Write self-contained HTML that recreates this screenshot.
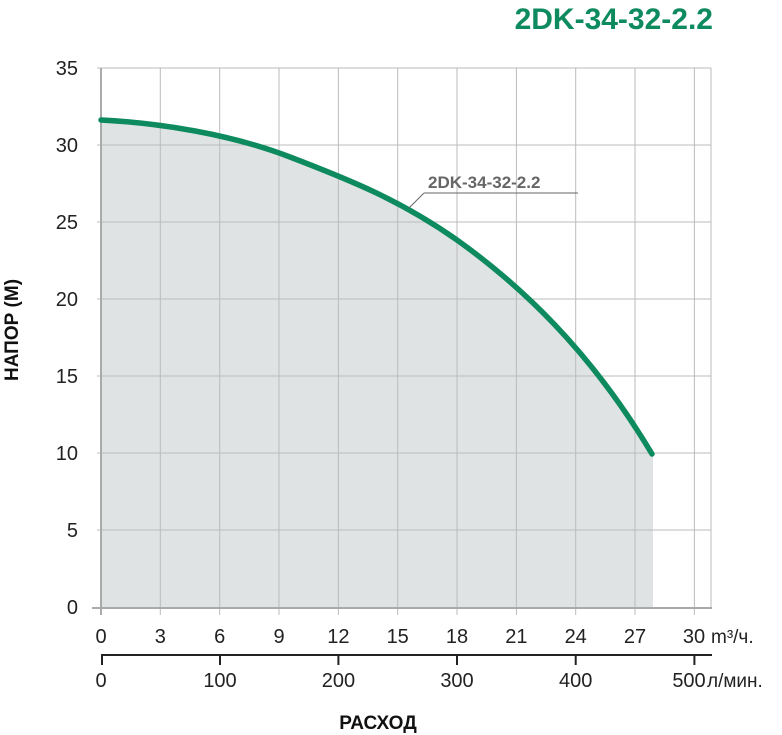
<!DOCTYPE html>
<html><head><meta charset="utf-8"><style>
body{margin:0;background:#fff;width:782px;height:735px;overflow:hidden}
svg{display:block}
text{font-family:"Liberation Sans","DejaVu Sans",sans-serif}
</style></head><body>
<svg width="782" height="735" viewBox="0 0 782 735">
<text x="713" y="29" text-anchor="end" font-size="30" font-weight="bold" fill="#0e8a5f">2DK-34-32-2.2</text>
<path d="M101,120 C160,123 230,134 290,157 C350,180 400,200 457,240 C520,285 590,350 652,454 L653,454 L653,608 L101,608 Z" fill="#dfe3e4"/>
<g stroke="#bbb" stroke-width="1">
<line x1="97" y1="68" x2="711" y2="68"/><line x1="97" y1="145" x2="711" y2="145"/><line x1="97" y1="222" x2="711" y2="222"/><line x1="97" y1="299" x2="711" y2="299"/><line x1="97" y1="376" x2="711" y2="376"/><line x1="97" y1="453" x2="711" y2="453"/><line x1="97" y1="530" x2="711" y2="530"/>
<line x1="160.3" y1="68" x2="160.3" y2="615"/><line x1="219.7" y1="68" x2="219.7" y2="615"/><line x1="279" y1="68" x2="279" y2="615"/><line x1="338.4" y1="68" x2="338.4" y2="615"/><line x1="397.7" y1="68" x2="397.7" y2="615"/><line x1="457" y1="68" x2="457" y2="615"/><line x1="516.4" y1="68" x2="516.4" y2="615"/><line x1="575.7" y1="68" x2="575.7" y2="615"/><line x1="635" y1="68" x2="635" y2="615"/><line x1="694.4" y1="68" x2="694.4" y2="615"/><line x1="711" y1="68" x2="711" y2="608"/>
</g>
<line x1="101" y1="68" x2="101" y2="615" stroke="#aaa" stroke-width="2"/>
<line x1="92" y1="608" x2="712" y2="608" stroke="#aaa" stroke-width="2"/>
<path d="M101,120 C160,123 230,134 290,157 C350,180 400,200 457,240 C520,285 590,350 652,454" fill="none" stroke="#0e8a5f" stroke-width="5.5" stroke-linecap="round"/>
<line x1="409" y1="208" x2="424" y2="193" stroke="#666" stroke-width="1"/>
<line x1="424" y1="193" x2="578" y2="193" stroke="#666" stroke-width="1"/>
<text x="428" y="188" font-size="17" font-weight="bold" fill="#666">2DK-34-32-2.2</text>
<g font-size="20" fill="#222" text-anchor="end">
<text x="78" y="75">35</text><text x="78" y="152">30</text><text x="78" y="229">25</text><text x="78" y="306">20</text><text x="78" y="383">15</text><text x="78" y="460">10</text><text x="78" y="537">5</text><text x="78" y="614">0</text>
</g>
<g font-size="20" fill="#222" text-anchor="middle">
<text x="101" y="643">0</text><text x="160.3" y="643">3</text><text x="219.7" y="643">6</text><text x="279" y="643">9</text><text x="338.4" y="643">12</text><text x="397.7" y="643">15</text><text x="457" y="643">18</text><text x="516.4" y="643">21</text><text x="575.7" y="643">24</text><text x="635" y="643">27</text><text x="694" y="643">30</text>
<text x="101" y="687">0</text><text x="220" y="687">100</text><text x="338.4" y="687">200</text><text x="457" y="687">300</text><text x="575.7" y="687">400</text><text x="689" y="687">500</text>
</g>
<text x="711" y="643" font-size="19" fill="#222">m³/ч.</text>
<text x="707" y="687" font-size="19" fill="#222">л/мин.</text>
<line x1="101" y1="655" x2="712" y2="655" stroke="#222" stroke-width="2"/>
<g stroke="#222" stroke-width="2"><line x1="102" y1="655" x2="102" y2="665"/><line x1="220" y1="655" x2="220" y2="665"/><line x1="338.4" y1="655" x2="338.4" y2="665"/><line x1="457" y1="655" x2="457" y2="665"/><line x1="575.7" y1="655" x2="575.7" y2="665"/><line x1="694.4" y1="655" x2="694.4" y2="665"/></g>
<text x="378" y="729" font-size="19" font-weight="bold" fill="#111" text-anchor="middle">РАСХОД</text>
<text transform="translate(18,330) rotate(-90)" font-size="19" font-weight="bold" fill="#111" text-anchor="middle">НАПОР (М)</text>
</svg>
</body></html>
